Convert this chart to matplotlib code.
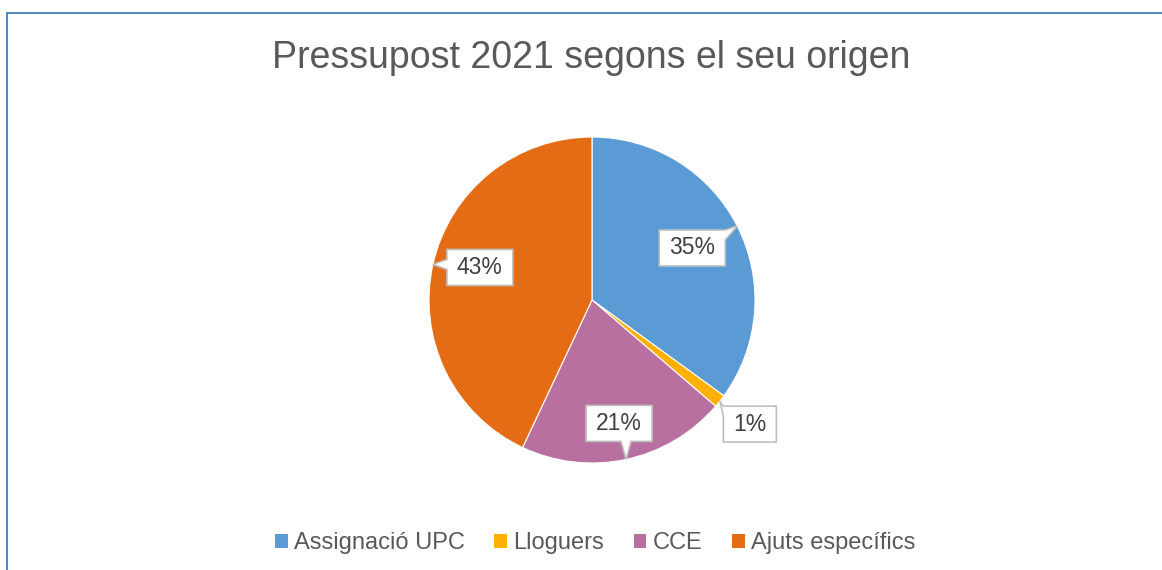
import numpy as np
import matplotlib.pyplot as plt
from matplotlib.patches import Polygon, Patch
from matplotlib.lines import Line2D

plt.rcParams['font.family'] = ['Liberation Sans', 'DejaVu Sans']

categories = ["Assignació UPC", "Lloguers", "CCE", "Ajuts específics"]
values = [35.0, 1.3, 20.7, 43.0]
labels = ["35%", "1%", "21%", "43%"]
colors = ["#5B9BD5", "#FFB000", "#B7709F", "#E46C14"]

# layout, in pixels (y up)
CX, CY, R = 592, 270, 163
label_offsets = [(-45, -22), (30, -23), (-7, 36), (47, -3)]
TEXT_COLOR = "#595959"

fig = plt.figure(figsize=(11.62, 5.70), dpi=100)
ax = fig.add_axes([0, 0, 1, 1])

wedges, _ = ax.pie(values, colors=colors, startangle=90, counterclock=False,
                   center=(CX, CY), radius=R,
                   wedgeprops=dict(edgecolor="white", linewidth=0.8))


def callout(ax, cx, cy, w, h, tip, text):
    x0, x1 = cx - w / 2, cx + w / 2
    y0, y1 = cy - h / 2, cy + h / 2
    tx, ty = tip
    bw = 10
    if tx > x1:
        yb = np.clip(ty, y0 + bw / 2, y1 - bw / 2)
        pts = [(x0, y0), (x1, y0), (x1, yb - bw / 2), (tx, ty), (x1, yb + bw / 2), (x1, y1), (x0, y1)]
    elif tx < x0:
        yb = np.clip(ty, y0 + bw / 2, y1 - bw / 2)
        pts = [(x0, y0), (x1, y0), (x1, y1), (x0, y1), (x0, yb + bw / 2), (tx, ty), (x0, yb - bw / 2)]
    elif ty < y0:
        xb = np.clip(tx, x0 + bw / 2, x1 - bw / 2)
        pts = [(x0, y0), (xb - bw / 2, y0), (tx, ty), (xb + bw / 2, y0), (x1, y0), (x1, y1), (x0, y1)]
    else:
        xb = np.clip(tx, x0 + bw / 2, x1 - bw / 2)
        pts = [(x0, y0), (x1, y0), (x1, y1), (xb + bw / 2, y1), (tx, ty), (xb - bw / 2, y1), (x0, y1)]
    ax.add_patch(Polygon(pts, closed=True, facecolor="white", edgecolor="#BFBFBF",
                         linewidth=1.2, joinstyle="miter", zorder=5))
    ax.text(cx, cy, text, ha="center", va="center", fontsize=16.5, color="#404040", zorder=6)


for wdg, lab, off in zip(wedges, labels, label_offsets):
    mid = np.deg2rad((wdg.theta1 + wdg.theta2) / 2)
    tip = (CX + R * np.cos(mid), CY + R * np.sin(mid))
    w = 53 if len(lab) == 2 else 66
    callout(ax, tip[0] + off[0], tip[1] + off[1], w, 36, tip, lab)

ax.set_xlim(0, 1162)
ax.set_ylim(0, 570)
ax.set_aspect("equal")
ax.axis("off")

fig.text(591.5 / 1162, 1 - 58 / 570, "Pressupost 2021 segons el seu origen",
         ha="center", va="center", fontsize=27, color=TEXT_COLOR)

handles = [Patch(facecolor=c, edgecolor="none") for c in colors]
fig.legend(handles, categories, loc="center", bbox_to_anchor=(595 / 1162, 1 - 543 / 570),
           ncol=4, frameon=False, fontsize=17, labelcolor=TEXT_COLOR,
           handlelength=0.55, handleheight=0.55, handletextpad=0.25, columnspacing=1.25)

# chart-area border (top and left visible)
fig.add_artist(Line2D([7 / 1162, 7 / 1162, 1], [0, 1 - 13 / 570, 1 - 13 / 570],
                      transform=fig.transFigure, color="#2E75B6", linewidth=1.2))

fig.savefig("out.png", dpi=100)
